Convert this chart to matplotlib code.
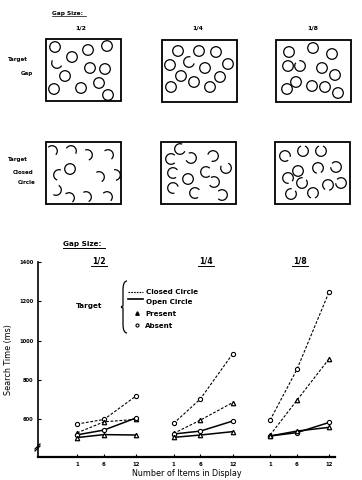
import numpy as np
import matplotlib
matplotlib.use("Agg")
import matplotlib.pyplot as plt
from matplotlib.patches import Arc, Circle, Rectangle, PathPatch
from matplotlib.path import Path

# ── data ──────────────────────────────────────────────────────────────
gap_labels = ["1/2", "1/4", "1/8"]
gap_fracs = [1 / 2, 1 / 4, 1 / 8]
set_sizes = [1, 6, 12]

# search time (ms) per gap size, rows: 1 / 6 / 12 items
closed_absent = [[575, 598, 718], [578, 703, 932], [595, 853, 1248]]
closed_present = [[530, 586, 599], [527, 595, 684], [519, 696, 907]]
open_absent = [[520, 544, 606], [524, 539, 590], [514, 531, 583]]
open_present = [[506, 521, 519], [507, 519, 536], [514, 539, 558]]

yticks = [600, 800, 1000, 1200, 1400]

# stimulus displays: item offsets inside each box (px), gap direction (deg),
# None = complete circle
top_items = [
    [(9, 8), (26, 18), (42, 11), (61, 7), (11, 24), (44, 29), (59, 30),
     (19, 37), (53, 44), (8, 50), (35, 49), (62, 56)],
    [(16, 11), (37, 11), (54, 12), (8, 25), (27, 22), (43, 28), (66, 24),
     (19, 36), (32, 42), (58, 37), (9, 47), (48, 47)],
    [(13, 12), (37, 8), (56, 14), (12, 26), (24, 26), (46, 28), (59, 35),
     (20, 42), (36, 46), (49, 47), (62, 53), (11, 49)],
]
top_gaps = [
    [None, None, None, None, 300, None, None, None, None, None, None, None],
    [None, None, None, None, 330, None, None, None, None, None, None, None],
    [None, None, None, None, 240, None, None, None, None, None, None, None],
]
bot_items = [
    [(6, 9), (25, 9), (41, 13), (62, 13), (24, 27), (13, 33), (53, 35),
     (69, 33), (10, 48), (23, 56), (40, 55), (61, 55)],
    [(19, 7), (10, 17), (30, 16), (52, 14), (12, 31), (45, 30), (65, 26),
     (27, 37), (53, 40), (12, 46), (34, 51), (61, 53)],
    [(10, 14), (28, 9), (46, 9), (61, 25), (43, 26), (23, 29), (13, 36),
     (27, 41), (53, 43), (66, 41), (16, 52), (38, 51)],
]
bot_gaps = [
    [135, 120, 160, 140, None, 20, 150, 170, 210, 140, 150, 135],
    [340, 0, 200, 150, 10, 0, 250, None, 190, 30, 10, 180],
    [30, 270, 270, 200, 80, None, 60, 300, 100, 200, 300, 90],
]
box_origins_top = [(46, 39), (162, 40), (276, 40)]
box_origins_bot = [(46, 142), (161, 142), (275, 142)]

# ── figure ────────────────────────────────────────────────────────────
plt.rcParams["font.family"] = "DejaVu Sans"
fig = plt.figure(figsize=(3.62, 4.80), dpi=100, facecolor="white")

# chart axes
ax = fig.add_axes([38 / 362, 1 - 457 / 480, 297 / 362, 195 / 480])
ax.set_facecolor("none")
ax.set_xlim(-6.3, 49.1)
ax.set_ylim(407, 1400)
for s in ("top", "right"):
    ax.spines[s].set_visible(False)
ax.spines["left"].set_linewidth(1.2)
ax.spines["bottom"].set_linewidth(1.6)

xpos = []
for k in range(3):
    xs = [n + 18 * k for n in set_sizes]
    xpos += xs
    ax.plot(xs, closed_absent[k], color="black", lw=0.8, ls=(0, (2.5, 1.5)),
            marker="o", ms=3, mfc="white", mec="black", mew=0.8)
    ax.plot(xs, closed_present[k], color="black", lw=0.8, ls=(0, (2.5, 1.5)),
            marker="^", ms=3.2, mfc="white", mec="black", mew=0.9)
    ax.plot(xs, open_absent[k], color="black", lw=1.1, ls="-",
            marker="o", ms=3, mfc="white", mec="black", mew=0.8)
    ax.plot(xs, open_present[k], color="black", lw=1.1, ls="-",
            marker="^", ms=3.2, mfc="white", mec="black", mew=0.9)

ax.set_xticks(xpos)
ax.set_xticklabels([str(n) for n in set_sizes] * 3, fontsize=3.8,
                   fontweight="bold")
ax.set_yticks(yticks)
ax.set_yticklabels([str(v) for v in yticks], fontsize=3.7, fontweight="bold")
ax.tick_params(axis="both", direction="in", length=2.5, width=0.8, pad=3.5)
ax.set_xlabel("Number of Items in Display", fontsize=5.8, labelpad=1.5)
ax.set_ylabel("Search Time (ms)", fontsize=5.8, labelpad=4)

# overlay in pixel coordinates for stimulus panels and annotations
ov = fig.add_axes([0, 0, 1, 1], zorder=3)
ov.set_xlim(0, 362)
ov.set_ylim(480, 0)
ov.axis("off")
ov.patch.set_alpha(0)

R = 5.3


def draw_box(origin, items, gaps, frac):
    ox, oy = origin
    ov.add_patch(Rectangle((ox, oy), 75, 62, fill=False, lw=1.3, ec="black"))
    for (dx, dy), g in zip(items, gaps):
        cx, cy = ox + dx, oy + dy
        if g is None:
            ov.add_patch(Circle((cx, cy), R, fill=False, lw=0.9, ec="black"))
        else:
            half = frac * 360 / 2
            ov.add_patch(Arc((cx, cy), 2 * R, 2 * R, theta1=g + half,
                             theta2=g + 360 - half, lw=0.9, color="black"))


for k in range(3):
    draw_box(box_origins_top[k], top_items[k], top_gaps[k], gap_fracs[k])
    draw_box(box_origins_bot[k], bot_items[k], bot_gaps[k], gap_fracs[k])

# stimulus labels
ov.text(52, 13, "Gap Size:", fontsize=4.2, va="center", fontweight="bold")
ov.plot([52, 86], [16, 16], color="black", lw=0.5)
for k, x in enumerate([81, 198, 313]):
    ov.text(x, 28, gap_labels[k], fontsize=4.5, ha="center", va="center",
            fontweight="bold")
for txt, x, y in [("Target", 8, 59), ("Gap", 21, 74), ("Target", 8, 159),
                  ("Closed", 13, 172), ("Circle", 18, 183)]:
    ov.text(x, y, txt, fontsize=4.0, va="center", fontweight="bold")

# chart annotations
ov.text(63, 244, "Gap Size:", fontsize=5.2, va="center", fontweight="bold")
ov.plot([63, 105], [248, 248], color="black", lw=0.7)
for k, x in enumerate([99, 206, 300]):
    ov.text(x, 261, gap_labels[k], fontsize=5.6, ha="center", va="center",
            fontweight="bold")
    ov.plot([x - 8, x + 8], [265.5, 265.5], color="black", lw=0.7)

ov.text(89, 306, "Target", fontsize=5.2, ha="center", va="center",
        fontweight="bold")
brace = Path([(127, 281), (123, 281), (123, 290), (123, 306), (119, 307),
              (123, 308), (123, 324), (123, 333), (127, 333)],
             [Path.MOVETO, Path.CURVE3, Path.CURVE3, Path.LINETO, Path.CURVE3,
              Path.CURVE3, Path.LINETO, Path.CURVE3, Path.CURVE3])
ov.add_patch(PathPatch(brace, fill=False, lw=0.9, ec="black"))
ov.plot([128, 143], [292, 292], color="black", lw=0.8, ls=(0, (1.5, 1)))
ov.text(146, 292, "Closed Circle", fontsize=5.1, va="center", fontweight="bold")
ov.plot([128, 143], [299, 299], color="black", lw=1.2)
ov.text(146, 302, "Open Circle", fontsize=5.1, va="center", fontweight="bold")
ov.plot([137], [313], marker="^", ms=2.5, color="black")
ov.text(145, 313.5, "Present", fontsize=5.1, va="center", fontweight="bold")
ov.plot([137], [325], marker="o", ms=2.2, mfc="white", mec="black", mew=0.8)
ov.text(145, 325.5, "Absent", fontsize=5.1, va="center", fontweight="bold")

# axis break mark
ov.plot([35, 40], [449, 444], color="black", lw=0.9)
ov.plot([35, 40], [451, 446], color="black", lw=0.9)

fig.savefig("out.png", dpi=100, facecolor="white")
